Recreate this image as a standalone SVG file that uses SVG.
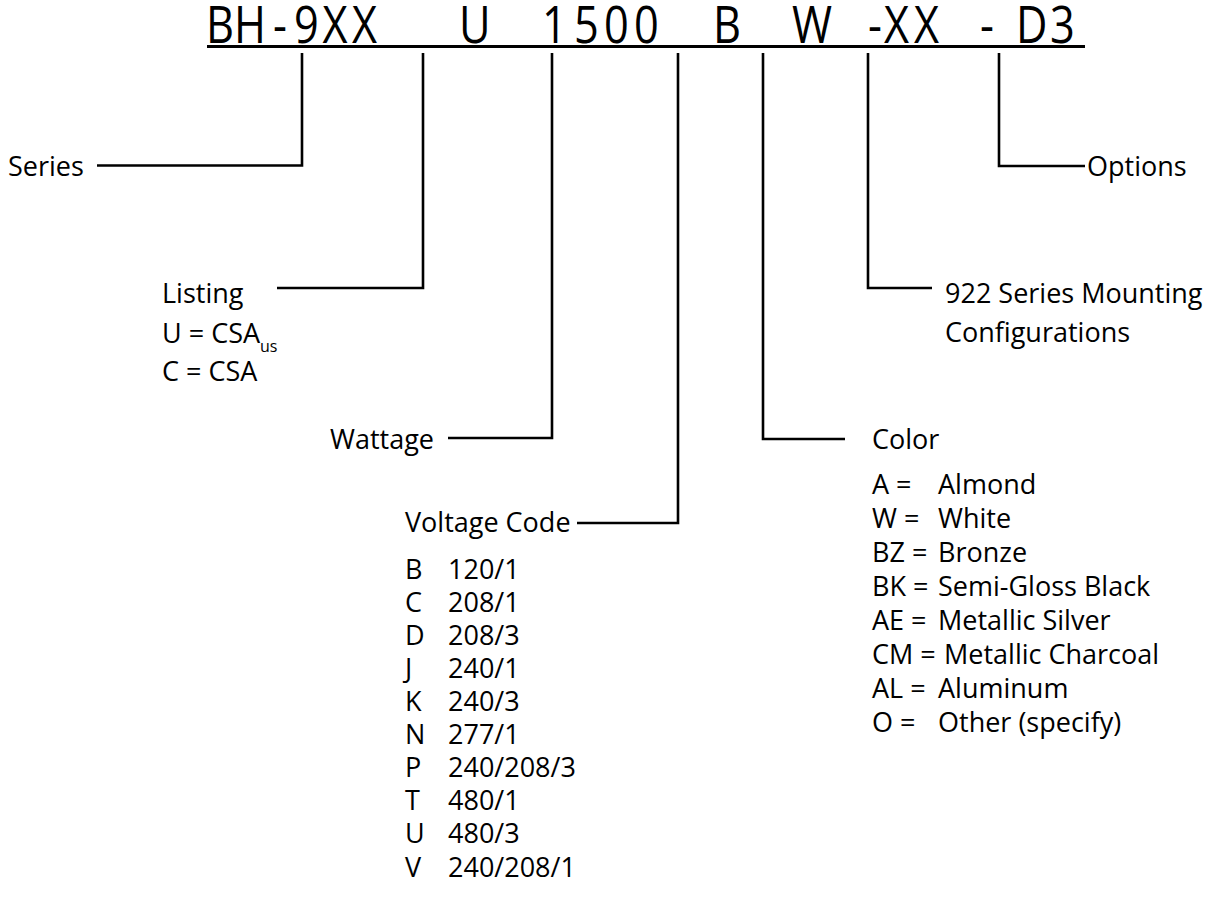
<svg xmlns="http://www.w3.org/2000/svg" width="1215" height="901" viewBox="0 0 1215 901">
<style>
text{font-family:"Open Sans","Noto Sans","DejaVu Sans",sans-serif;fill:#000;}
.t{font-size:27px;}
.sub{font-size:16px;}
.title{font-size:51px;}
.c{fill:none;stroke:#000;stroke-width:2.6;}
</style>
<rect width="1215" height="901" fill="#fff"/>
<g id="title">
<text class="title" transform="scale(0.85,1)" x="242.35 275.29 321.18 345.88 379.41 414.12 449.41 540 576.47 637.65 675.29 710.59 745.88 783.53 838.82 876.47 931.76 988.24 1021.18 1040 1075.29 1111.76 1152.94 1176.47 1195.29 1235.29" y="43">BH-9XX U 1500 B W -XX - D3</text>
<line x1="207" y1="46.5" x2="1085" y2="46.5" stroke="#000" stroke-width="3"/>
</g>
<g id="connectors">
<path class="c" d="M302,53 V165.5 H97"/>
<path class="c" d="M423,53 V288 H277"/>
<path class="c" d="M552,53 V438 H448"/>
<path class="c" d="M678,53 V523 H577"/>
<path class="c" d="M763,53 V439 H845"/>
<path class="c" d="M868,53 V288 H932"/>
<path class="c" d="M999,53 V166 H1085"/>
</g>
<g id="series"><text class="t" x="8" y="176">Series</text></g>
<g id="options"><text class="t" x="1087" y="176">Options</text></g>
<g id="listing">
<text class="t" x="162" y="303">Listing</text>
<text class="t" x="162" y="343">U = CSA<tspan class="sub" dy="9">us</tspan></text>
<text class="t" x="162" y="381">C = CSA</text>
</g>
<g id="mounting">
<text class="t" x="945" y="303">922 Series Mounting</text>
<text class="t" x="945" y="342">Configurations</text>
</g>
<g id="wattage"><text class="t" x="330" y="449">Wattage</text></g>
<g id="color">
<text class="t" x="872" y="449">Color</text>
<text class="t" x="872" y="494">A =</text><text class="t" x="938" y="494">Almond</text>
<text class="t" x="872" y="528">W =</text><text class="t" x="938" y="528">White</text>
<text class="t" x="872" y="562">BZ =</text><text class="t" x="938" y="562">Bronze</text>
<text class="t" x="872" y="596">BK =</text><text class="t" x="938" y="596">Semi-Gloss Black</text>
<text class="t" x="872" y="630">AE =</text><text class="t" x="938" y="630">Metallic Silver</text>
<text class="t" x="872" y="664">CM =</text><text class="t" x="944" y="664">Metallic Charcoal</text>
<text class="t" x="872" y="698">AL =</text><text class="t" x="938" y="698">Aluminum</text>
<text class="t" x="872" y="732">O =</text><text class="t" x="938" y="732">Other (specify)</text>
</g>
<g id="voltage">
<text class="t" x="405" y="532">Voltage Code</text>
<text class="t" x="405" y="579">B</text><text class="t" x="448" y="579">120/1</text>
<text class="t" x="405" y="612">C</text><text class="t" x="448" y="612">208/1</text>
<text class="t" x="405" y="645">D</text><text class="t" x="448" y="645">208/3</text>
<text class="t" x="405" y="678">J</text><text class="t" x="448" y="678">240/1</text>
<text class="t" x="405" y="711">K</text><text class="t" x="448" y="711">240/3</text>
<text class="t" x="405" y="744">N</text><text class="t" x="448" y="744">277/1</text>
<text class="t" x="405" y="777">P</text><text class="t" x="448" y="777">240/208/3</text>
<text class="t" x="405" y="810">T</text><text class="t" x="448" y="810">480/1</text>
<text class="t" x="405" y="843">U</text><text class="t" x="448" y="843">480/3</text>
<text class="t" x="405" y="877">V</text><text class="t" x="448" y="877">240/208/1</text>
</g>
</svg>
